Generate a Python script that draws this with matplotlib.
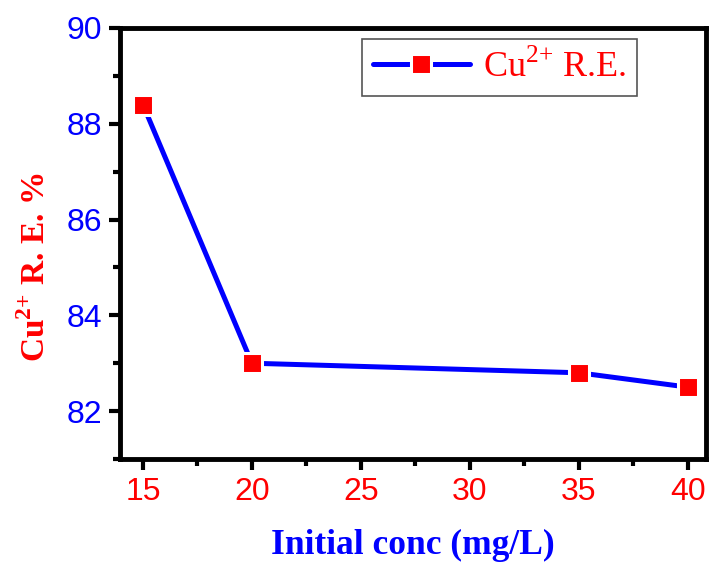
import matplotlib
matplotlib.use('Agg')
import matplotlib.pyplot as plt
from matplotlib.ticker import MultipleLocator

# removal efficiency vs initial copper concentration
conc = [15, 20, 35, 40]
removal = [88.4, 83.0, 82.8, 82.5]
xticks = [15, 20, 25, 30, 35, 40]
yticks = [82, 84, 86, 88, 90]

plt.rcParams['mathtext.fontset'] = 'custom'
plt.rcParams['mathtext.rm'] = 'Liberation Serif'
plt.rcParams['mathtext.bf'] = 'Liberation Serif:bold'

fig = plt.figure(figsize=(7.09, 5.62), dpi=100)
ax = fig.add_axes([0.1693, 0.1833, 0.8265, 0.7669])

ax.plot(conc, removal, color='blue', linewidth=3.6, marker='s',
        markersize=13.7, markerfacecolor='red', markeredgecolor='white',
        markeredgewidth=2.2, solid_capstyle='round',
        label='Cu$^{2{+}}$ R.E.')

ax.set_xlim(13.95, 40.83)
ax.set_ylim(81, 90)
ax.set_xticks(xticks)
ax.set_yticks(yticks)
ax.xaxis.set_minor_locator(MultipleLocator(2.5))
ax.yaxis.set_minor_locator(MultipleLocator(1))

for s in ax.spines.values():
    s.set_linewidth(3.5)
ax.tick_params(which='major', direction='out', length=8, width=3, pad=5)
ax.tick_params(which='minor', direction='out', length=5, width=3)
ax.tick_params(axis='x', labelsize=23, labelcolor='red')
ax.tick_params(axis='y', labelsize=23, labelcolor='blue')
for lab in ax.get_xticklabels() + ax.get_yticklabels():
    lab.set_fontfamily('Liberation Sans')

ax.set_xlabel('Initial conc (mg/L)', fontsize=25.5, fontweight='bold',
              family='Liberation Serif', color='blue', labelpad=16)
ax.set_ylabel('Cu$^{\\mathbf{2{+}}}$ R. E. %', fontsize=24, fontweight='bold',
              family='Liberation Serif', color='red')
ax.yaxis.set_label_coords(-0.116, 0.445)

leg = ax.legend(loc='upper right', bbox_to_anchor=(0.882, 0.9745),
                prop={'family': 'Liberation Serif', 'size': 26},
                labelcolor='red', fancybox=False, framealpha=1,
                edgecolor='#555555', handlelength=2.7, handletextpad=0.35,
                borderpad=0.3, borderaxespad=0)
leg.get_frame().set_linewidth(1.2)

fig.savefig('out.png', dpi=100)
